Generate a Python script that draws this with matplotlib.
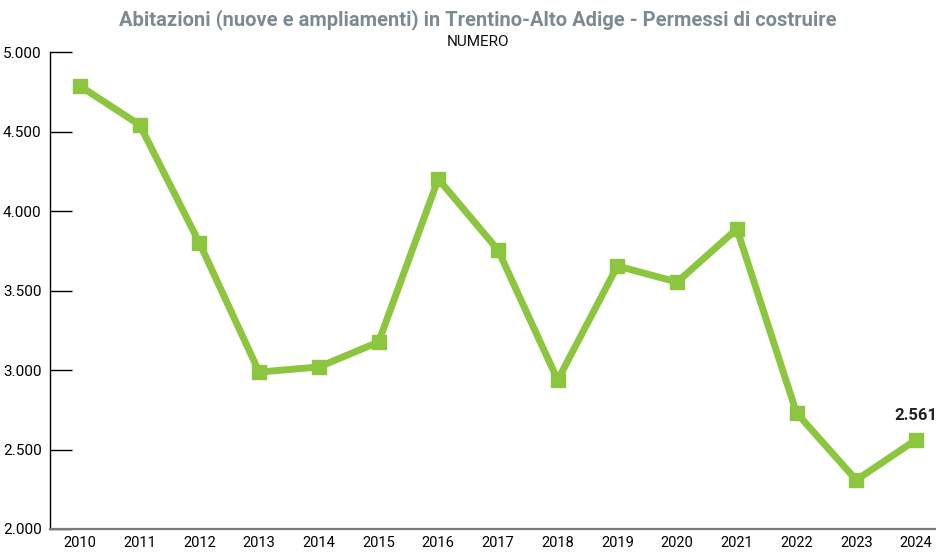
import numpy as np
import matplotlib
matplotlib.use("Agg")
import matplotlib.pyplot as plt
from matplotlib.ticker import FuncFormatter

OUT = "out.png"

years = list(range(2010, 2025))
permessi = [4786, 4541, 3799, 2987, 3019, 3176, 4201, 3755, 2937, 3654, 3553, 3887, 2730, 2308, 2561]
y_ticks = [2000, 2500, 3000, 3500, 4000, 4500, 5000]

GREEN = "#8cc63f"
TITLE_GREY = "#7d8a91"

plt.rcParams["font.family"] = ["Roboto", "DejaVu Sans"]


def thousands(v, _pos):
    return f"{int(v):,}".replace(",", ".")


fig = plt.figure(figsize=(9.37, 5.52), dpi=100)
ax = fig.add_axes([50 / 937, 1 - 529 / 552, 887 / 937, 477 / 552])

ax.plot(years, permessi, color=GREEN, lw=5, marker="s", ms=10,
        solid_joinstyle="miter", zorder=3)
ax.annotate(thousands(permessi[-1], None), xy=(years[-1], permessi[-1]),
            xytext=(0, 12), textcoords="offset points", ha="center", va="bottom",
            fontsize=12, weight="bold", color="#222222")

ax.set_xlim(2009.497, 2024.352)
ax.set_ylim(2000, 5000)
ax.set_yticks(y_ticks)
ax.yaxis.set_major_formatter(FuncFormatter(thousands))
ax.set_xticks(years)
ax.set_xticklabels([str(y) for y in years])

ax.tick_params(axis="y", direction="in", length=16, width=1, color="black",
               labelsize=11, pad=6)
ax.tick_params(axis="x", length=0, labelsize=10.5, pad=5)

for s in ["top", "right"]:
    ax.spines[s].set_visible(False)
ax.spines["left"].set_color("black")
ax.spines["left"].set_linewidth(1)
ax.spines["bottom"].set_color("#7a7a7a")
ax.spines["bottom"].set_linewidth(1.6)

fig.text(0.51, 1 - 20 / 552, "Abitazioni (nuove e ampliamenti) in Trentino-Alto Adige - Permessi di costruire",
         ha="center", va="center", fontsize=14.5, weight="bold", color=TITLE_GREY)
fig.text(0.51, 1 - 42 / 552, "NUMERO", ha="center", va="center", fontsize=11, color="#111111")

fig.savefig(OUT, dpi=100)
